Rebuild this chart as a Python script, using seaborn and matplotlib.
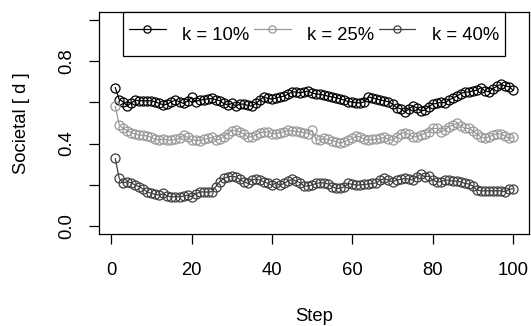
import numpy as np
import pandas as pd
import matplotlib
matplotlib.use('Agg')
import matplotlib.pyplot as plt
import seaborn as sns

steps = list(range(1, 101))

k10 = [0.672, 0.614, 0.603, 0.582, 0.598, 0.611, 0.608, 0.608, 0.608, 0.608,
       0.603, 0.595, 0.587, 0.592, 0.603, 0.611, 0.603, 0.595, 0.606, 0.624,
       0.603, 0.611, 0.614, 0.617, 0.619, 0.614, 0.608, 0.595, 0.587, 0.595,
       0.582, 0.592, 0.592, 0.585, 0.582, 0.595, 0.611, 0.627, 0.619, 0.616,
       0.621, 0.627, 0.630, 0.640, 0.650, 0.651, 0.646, 0.651, 0.655, 0.646,
       0.640, 0.640, 0.635, 0.630, 0.627, 0.622, 0.617, 0.611, 0.603, 0.603,
       0.598, 0.598, 0.603, 0.627, 0.622, 0.617, 0.611, 0.608, 0.603, 0.592,
       0.575, 0.569, 0.554, 0.566, 0.582, 0.575, 0.558, 0.562, 0.579, 0.592,
       0.595, 0.601, 0.598, 0.611, 0.621, 0.630, 0.643, 0.650, 0.651, 0.656,
       0.659, 0.672, 0.656, 0.651, 0.667, 0.679, 0.688, 0.679, 0.676, 0.659]

k25 = [0.582, 0.490, 0.474, 0.462, 0.453, 0.446, 0.441, 0.441, 0.436, 0.430,
       0.420, 0.417, 0.423, 0.417, 0.417, 0.420, 0.425, 0.441, 0.430, 0.417,
       0.417, 0.414, 0.420, 0.425, 0.430, 0.417, 0.420, 0.433, 0.449, 0.462,
       0.465, 0.457, 0.446, 0.433, 0.433, 0.441, 0.453, 0.457, 0.457, 0.449,
       0.449, 0.453, 0.457, 0.465, 0.462, 0.459, 0.457, 0.453, 0.449, 0.465,
       0.420, 0.417, 0.425, 0.420, 0.414, 0.409, 0.401, 0.409, 0.417, 0.425,
       0.436, 0.433, 0.420, 0.417, 0.420, 0.420, 0.425, 0.430, 0.420, 0.417,
       0.433, 0.449, 0.453, 0.446, 0.433, 0.433, 0.441, 0.449, 0.457, 0.474,
       0.474, 0.457, 0.465, 0.482, 0.490, 0.498, 0.485, 0.474, 0.474, 0.462,
       0.446, 0.433, 0.425, 0.433, 0.441, 0.449, 0.446, 0.436, 0.425, 0.430]

k40 = [0.328, 0.231, 0.210, 0.215, 0.210, 0.199, 0.191, 0.178, 0.166, 0.158,
       0.154, 0.150, 0.158, 0.145, 0.142, 0.142, 0.142, 0.145, 0.150, 0.142,
       0.155, 0.165, 0.166, 0.165, 0.166, 0.191, 0.215, 0.231, 0.239, 0.242,
       0.239, 0.226, 0.215, 0.207, 0.223, 0.228, 0.223, 0.215, 0.207, 0.197,
       0.210, 0.197, 0.207, 0.218, 0.228, 0.218, 0.210, 0.194, 0.194, 0.199,
       0.207, 0.210, 0.210, 0.204, 0.191, 0.183, 0.183, 0.191, 0.207, 0.202,
       0.199, 0.199, 0.202, 0.204, 0.207, 0.210, 0.223, 0.231, 0.223, 0.215,
       0.223, 0.226, 0.231, 0.228, 0.223, 0.239, 0.252, 0.239, 0.242, 0.223,
       0.215, 0.215, 0.223, 0.223, 0.218, 0.218, 0.215, 0.207, 0.204, 0.194,
       0.175, 0.171, 0.171, 0.171, 0.171, 0.171, 0.171, 0.166, 0.178, 0.181]

labels = ['k = 10%', 'k = 25%', 'k = 40%']
colors = ['#000000', '#999999', '#3f3f3f']

df = pd.DataFrame({
    'Step': steps * 3,
    'value': k10 + k25 + k40,
    'k': [labels[0]] * 100 + [labels[1]] * 100 + [labels[2]] * 100,
})

sns.set_theme(style='ticks', rc={'text.color': 'black', 'axes.labelcolor': 'black',
                                 'xtick.color': 'black', 'ytick.color': 'black',
                                 'axes.edgecolor': 'black'})
plt.rcParams['font.family'] = ['Liberation Sans', 'DejaVu Sans']

FS = 13.3

fig = plt.figure(figsize=(5.31, 3.26), dpi=100)
ax = fig.add_axes([99.3 / 531, 1 - 234.3 / 326, (529 - 99.3) / 531, (234.3 - 11.7) / 326])

for lab, c in zip(labels, colors):
    sns.lineplot(data=df[df['k'] == lab], x='Step', y='value', ax=ax,
                 color=c, marker='o', markersize=6.5, markerfacecolor='none',
                 markeredgecolor=c, markeredgewidth=0.9, linewidth=0.9,
                 label=lab)

ax.set_xlim(-2.96, 103.96)
ax.set_ylim(-0.04, 1.04)
ax.set_xticks([0, 20, 40, 60, 80, 100])
ax.set_yticks([0.0, 0.2, 0.4, 0.6, 0.8, 1.0])
ax.set_yticklabels(['0.0', '', '0.4', '', '0.8', ''])
ax.tick_params(axis='both', length=7.2, width=0.9, labelsize=FS)
ax.tick_params(axis='x', pad=13)
ax.tick_params(axis='y', pad=10)
for t in ax.get_yticklabels():
    t.set_rotation(90)
    t.set_va('center')
for sp in ax.spines.values():
    sp.set_visible(True)
    sp.set_linewidth(0.9)

ax.set_xlabel('Step', fontsize=FS, labelpad=20.5)
ax.set_ylabel('Societal [ d ]', fontsize=FS, labelpad=20.5)

leg = ax.legend(ncol=3, loc='upper center', bbox_to_anchor=(0.5, 1.0),
                frameon=True, fancybox=False, framealpha=1, edgecolor='black',
                fontsize=FS, handlelength=1.98, handletextpad=0.9,
                handleheight=2.3, columnspacing=0.24, borderpad=0.33,
                borderaxespad=0, markerscale=0.8)
leg.get_frame().set_linewidth(0.9)

fig.savefig('out.png', dpi=100)
